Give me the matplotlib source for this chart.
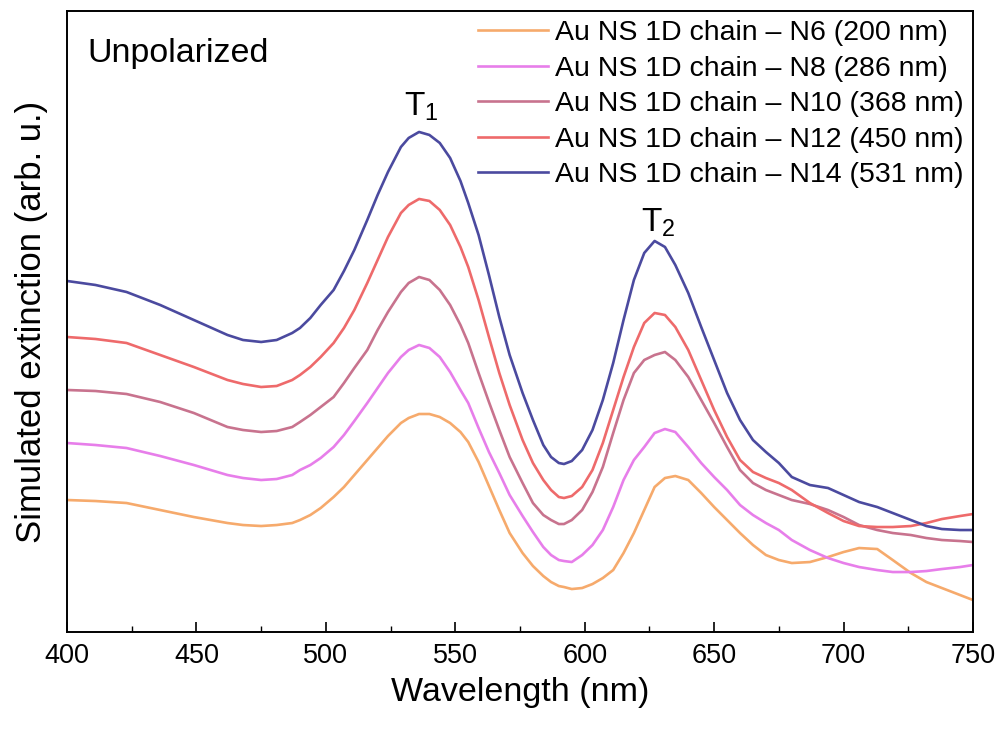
import matplotlib
matplotlib.use("Agg")
import matplotlib.pyplot as plt
from matplotlib.ticker import MultipleLocator

plt.rcParams['font.family'] = ['Liberation Sans', 'DejaVu Sans']
plt.rcParams['mathtext.fontset'] = 'custom'
plt.rcParams['mathtext.rm'] = 'Liberation Sans'

# wavelength grid (nm)
wavelength = [400, 411, 423, 436, 449, 462, 468, 475, 481, 487,
              490, 494, 498, 503, 507, 511, 516, 520, 524, 529,
              532, 536, 540, 544, 548, 552, 555, 559, 563, 567, 571,
              576, 580, 584, 587, 590, 592, 595, 599,
              603, 607, 611, 615, 619, 623, 627, 631, 635,
              640, 645, 650, 655, 660, 665, 670, 675, 680,
              687, 694, 700, 706, 713, 719, 726, 732, 738, 745, 750]

# simulated extinction (arb. u.)
ext_n6 = [132, 131, 129, 122, 115, 109, 107, 106, 107, 109,
          112, 117, 124, 135, 145, 157, 172, 184, 196, 209,
          214, 218, 218, 215, 209, 200, 190, 170, 146, 122, 99,
          79, 66, 56, 50, 46, 45, 43, 44,
          48, 54, 62, 79, 99, 122, 145, 154, 156,
          152, 139, 125, 112, 99, 87, 77, 72, 69,
          70, 75, 80, 84, 83, 72, 59, 50, 44, 37, 32]
ext_n8 = [189, 187, 184, 176, 167, 157, 154, 152, 153, 157,
          162, 167, 174, 185, 197, 211, 229, 244, 259, 275,
          282, 287, 284, 275, 260, 242, 229, 204, 180, 159, 137,
          116, 100, 85, 77, 72, 71, 70, 77,
          87, 102, 125, 152, 172, 185, 199, 203, 200,
          185, 169, 155, 142, 127, 117, 109, 102, 92,
          82, 74, 69, 65, 62, 60, 60, 61, 63, 65, 67]
ext_n10 = [242, 241, 238, 230, 219, 205, 202, 200, 201, 205,
           210, 217, 225, 235, 249, 264, 282, 302, 320, 340,
           349, 355, 352, 342, 327, 307, 289, 259, 230, 202, 175,
           149, 129, 117, 112, 108, 108, 112, 122,
           140, 165, 199, 232, 259, 272, 277, 280, 272,
           255, 232, 209, 185, 162, 149, 142, 137, 132,
           128, 122, 115, 107, 102, 99, 97, 94, 92, 91, 90]
ext_n12 = [295, 293, 289, 277, 265, 252, 248, 245, 246, 252,
           257, 265, 275, 289, 304, 322, 349, 372, 395, 419,
           427, 433, 431, 422, 407, 385, 365, 332, 295, 259, 227,
           192, 169, 152, 142, 135, 134, 136, 145,
           162, 189, 222, 255, 285, 309, 319, 317, 305,
           282, 252, 222, 195, 172, 160, 154, 149, 142,
           129, 119, 111, 106, 105, 105, 106, 109, 113, 116, 118]
ext_n14 = [351, 347, 340, 327, 312, 297, 292, 290, 292, 299,
           304, 314, 327, 342, 361, 382, 412, 437, 460, 485,
           494, 500, 497, 489, 474, 451, 429, 397, 357, 315, 277,
           239, 212, 187, 175, 169, 168, 171, 182,
           202, 232, 269, 312, 352, 379, 391, 385, 367,
           339, 305, 272, 239, 212, 192, 180, 169, 155,
           147, 144, 137, 130, 125, 119, 112, 106, 103, 102, 102]

series = [ext_n6, ext_n8, ext_n10, ext_n12, ext_n14]
labels = ['Au NS 1D chain \u2013 N6 (200 nm)',
          'Au NS 1D chain \u2013 N8 (286 nm)',
          'Au NS 1D chain \u2013 N10 (368 nm)',
          'Au NS 1D chain \u2013 N12 (450 nm)',
          'Au NS 1D chain \u2013 N14 (531 nm)']
colors = ['#F6AA6C', '#E77EEA', '#C8738E', '#EE6A6B', '#4B4A9F']

fig = plt.figure(figsize=(10, 7.29), dpi=100)
ax = fig.add_axes([0.067, 0.133, 0.906, 0.852])

for y, lab, c in zip(series, labels, colors):
    ax.plot(wavelength, y, color=c, lw=1.9, label=lab)

ax.set_xlim(400, 750)
ax.set_ylim(0, 621)
ax.xaxis.set_major_locator(MultipleLocator(50))
ax.xaxis.set_minor_locator(MultipleLocator(25))
ax.tick_params(axis='x', which='major', direction='in', length=7, width=1.2,
               labelsize=19.5, pad=8)
ax.tick_params(axis='x', which='minor', direction='in', length=4, width=1.0)
ax.set_yticks([])
for s in ax.spines.values():
    s.set_linewidth(1.4)

ax.set_xlabel('Wavelength (nm)', fontsize=24.5, labelpad=6)
ax.set_ylabel('Simulated extinction (arb. u.)', fontsize=25, labelpad=14)

ax.text(0.023, 0.932, 'Unpolarized', transform=ax.transAxes, fontsize=24.5,
        va='center', ha='left')
ax.text(537, 509, r'$\mathregular{T_1}$', fontsize=24, ha='center', va='bottom')
ax.text(628.5, 393, r'$\mathregular{T_2}$', fontsize=24, ha='center', va='bottom')

ax.legend(loc='upper right', frameon=False, fontsize=20.5, handlelength=2.45,
          handletextpad=0.25, labelspacing=0.33, borderaxespad=0.0,
          bbox_to_anchor=(1.002, 1.003))

fig.savefig('out.png', dpi=100)
